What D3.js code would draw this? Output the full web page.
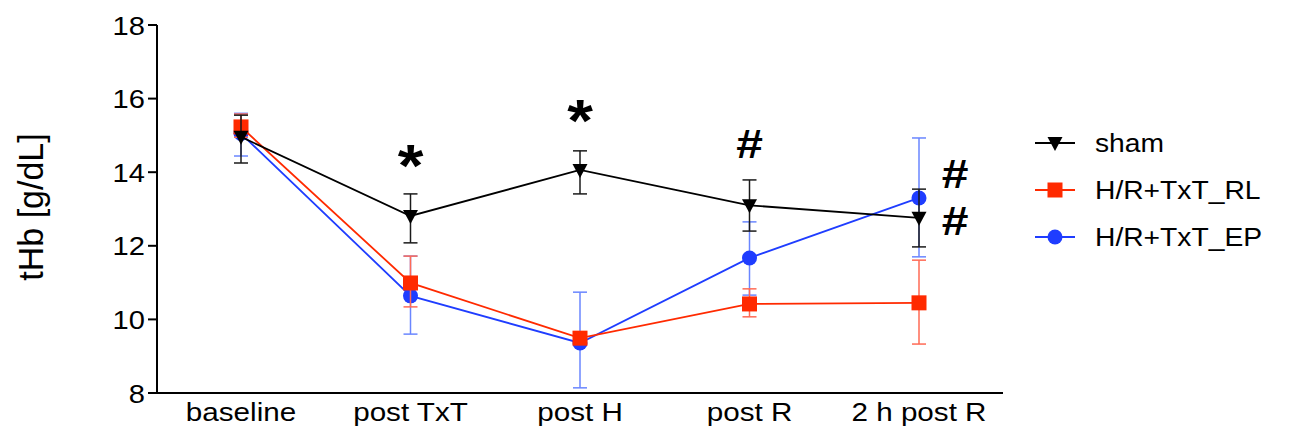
<!DOCTYPE html>
<html>
<head>
<meta charset="utf-8">
<script src="https://cdn.jsdelivr.net/npm/d3@7"></script>
<style>
  html, body { margin: 0; padding: 0; background: #fff; }
  svg { display: block; }
  text { font-family: "Liberation Sans", Arial, Helvetica, sans-serif; fill: #000; }
</style>
</head>
<body>
<svg id="chart" width="1293" height="434"></svg>
<script>
// ---- data ----
const categories = ["baseline", "post TxT", "post H", "post R", "2 h post R"];
const yTicks = [8, 10, 12, 14, 16, 18];
const seriesNames = ["sham", "H/R+TxT_RL", "H/R+TxT_EP"];

const shamMean = [14.96, 12.81, 14.06, 13.10, 12.76];
const shamLow  = [14.25, 12.08, 13.41, 12.40, 11.97];
const shamHigh = [15.55, 13.41, 14.58, 13.79, 13.54];

const rlMean = [15.23, 10.99, 9.49, 10.42, 10.45];
const rlLow  = [14.95, 10.34, 9.35, 10.07, 9.33];
const rlHigh = [15.58, 11.72, 9.62, 10.83, 11.61];

const epMean = [15.05, 10.64, 9.36, 11.67, 13.30];
const epLow  = [14.44, 9.60, 8.14, 10.66, 11.70];
const epHigh = [15.60, 11.72, 10.74, 12.65, 14.93];

// significance marks: label, category, value level
const annLabels = ["*", "*", "#", "#", "#"];
const annCats   = ["post TxT", "post H", "post R", "2 h post R", "2 h post R"];
const annValues = [14.39, 15.61, 14.79, 13.98, 12.70];
const annShift  = [0, 0, 0, 1, 1]; // 1 = placed right of the point

// ---- layout ----
const svg = d3.select("#chart");
const x = d3.scalePoint().domain(categories).range([241, 919]);
const y = d3.scaleLinear().domain([8, 18]).range([393, 25]);
const axisLeftX = 157, axisRightX = 1003;

const colors = { "sham": "#000000", "H/R+TxT_RL": "#ff2a00", "H/R+TxT_EP": "#1f3dff" };
const errColors = { "sham": "#1a1a1a", "H/R+TxT_RL": "#ff6a55", "H/R+TxT_EP": "#6a86ff" };

const series = [
  { name: "H/R+TxT_EP", mean: epMean, low: epLow, high: epHigh, shape: "circle" },
  { name: "H/R+TxT_RL", mean: rlMean, low: rlLow, high: rlHigh, shape: "square" },
  { name: "sham", mean: shamMean, low: shamLow, high: shamHigh, shape: "tri" }
];

function stretchedText(g, tx, ty, str, size, sx, anchor, weight) {
  return g.append("text")
    .attr("transform", `translate(${tx},${ty}) scale(${sx},1)`)
    .attr("text-anchor", anchor)
    .style("font-size", size + "px")
    .style("font-weight", weight || "normal")
    .text(str);
}

// axes
const yAxisG = svg.append("g");
yAxisG.append("line").attr("x1", axisLeftX).attr("x2", axisLeftX)
  .attr("y1", y(18)).attr("y2", y(8)).attr("stroke", "#000").attr("stroke-width", 2);
yTicks.forEach(t => {
  yAxisG.append("line").attr("x1", axisLeftX - 9).attr("x2", axisLeftX)
    .attr("y1", y(t)).attr("y2", y(t)).attr("stroke", "#000").attr("stroke-width", 2);
  stretchedText(yAxisG, axisLeftX - 12, y(t) + 9.5, String(t), 26, 1.12, "end");
});
const xAxisG = svg.append("g");
xAxisG.append("line").attr("x1", axisLeftX - 1).attr("x2", axisRightX)
  .attr("y1", y(8)).attr("y2", y(8)).attr("stroke", "#000").attr("stroke-width", 2);
categories.forEach(c => {
  stretchedText(xAxisG, x(c), 421, c, 26, 1.14, "middle");
});

// y title
svg.append("text")
  .attr("transform", `translate(43,207) rotate(-90) scale(1,1.05)`)
  .attr("text-anchor", "middle")
  .style("font-size", "34px")
  .text("tHb [g/dL]");

// series
const line = d3.line().x((d, i) => x(categories[i])).y(d => y(d));

function drawMarker(g, shape, cx, cy, color) {
  if (shape === "circle") {
    g.append("circle").attr("cx", cx).attr("cy", cy).attr("r", 7.5).attr("fill", color);
  } else if (shape === "square") {
    g.append("rect").attr("x", cx - 7.5).attr("y", cy - 7.5).attr("width", 15).attr("height", 15).attr("fill", color);
  } else {
    g.append("path").attr("d", `M${cx-7.5},${cy-6} L${cx+7.5},${cy-6} L${cx},${cy+8} Z`).attr("fill", color);
  }
}

series.forEach(s => {
  const g = svg.append("g");
  s.mean.forEach((m, i) => {
    const cx = x(categories[i]);
    g.append("line").attr("x1", cx).attr("x2", cx).attr("y1", y(s.low[i])).attr("y2", y(s.high[i]))
      .attr("stroke", errColors[s.name]).attr("stroke-width", 1.5);
    [s.low[i], s.high[i]].forEach(v => {
      g.append("line").attr("x1", cx - 7).attr("x2", cx + 7).attr("y1", y(v)).attr("y2", y(v))
        .attr("stroke", errColors[s.name]).attr("stroke-width", 1.5);
    });
  });
  g.append("path").attr("d", line(s.mean)).attr("fill", "none")
    .attr("stroke", colors[s.name]).attr("stroke-width", 1.8);
  s.mean.forEach((m, i) => drawMarker(g, s.shape, x(categories[i]), y(m), colors[s.name]));
});

// annotations
annLabels.forEach((a, i) => {
  const cx = x(annCats[i]) + (annShift[i] ? 36 : 0);
  if (a === "*") {
    stretchedText(svg, cx, y(annValues[i]) + 28, a, 60, 1.1, "middle", "bold");
  } else {
    stretchedText(svg, cx, y(annValues[i]) + 15, a, 40, 1.2, "middle", "bold");
  }
});

// legend
const legendNames = ["sham", "H/R+TxT_RL", "H/R+TxT_EP"];
const legendShapes = ["tri", "square", "circle"];
const legendY = [143, 190, 237];
legendNames.forEach((n, i) => {
  const g = svg.append("g");
  g.append("line").attr("x1", 1035).attr("x2", 1075).attr("y1", legendY[i]).attr("y2", legendY[i])
    .attr("stroke", colors[n]).attr("stroke-width", 2);
  drawMarker(g, legendShapes[i], 1055, legendY[i], colors[n]);
  stretchedText(g, 1095, legendY[i] + 9, n, 25, 1.13, "start");
});
</script>
</body>
</html>
